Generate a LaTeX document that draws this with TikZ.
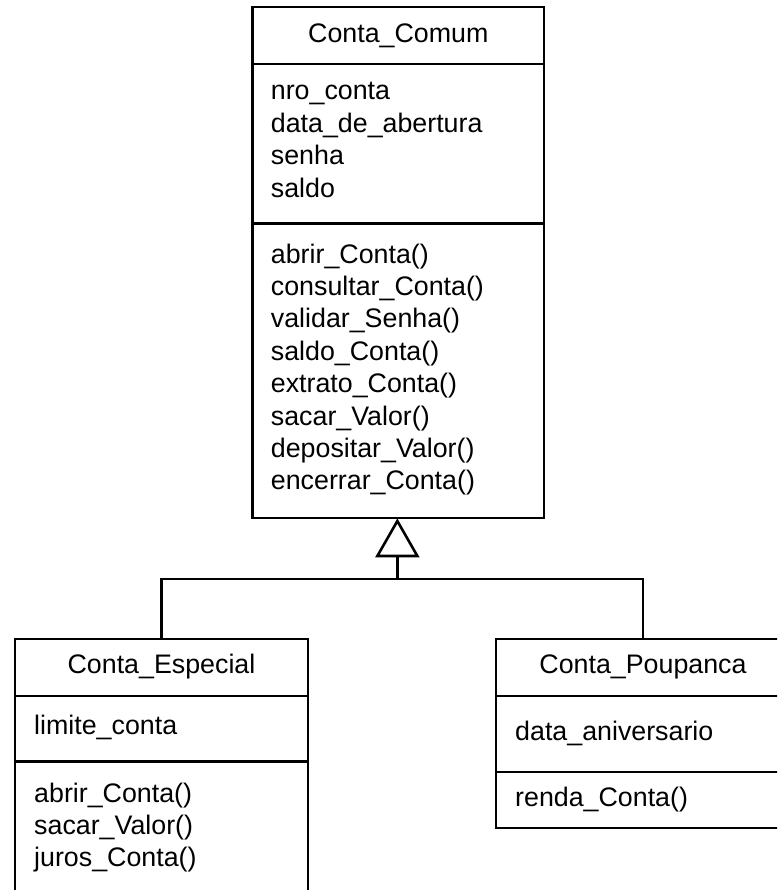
\documentclass[tikz,border=0pt]{standalone}
\usepackage{fontspec}
\setmainfont{Liberation Sans}
\usetikzlibrary{calc}
\begin{document}
\begin{tikzpicture}[x=1pt, y=-1pt,
  classbox/.style={draw, line width=2.6pt, inner sep=0pt, outer sep=0pt, anchor=north west},
  rule/.style={line width=2.6pt},
  link/.style={line width=2.6pt},
  lbl/.style={anchor=base west, inner sep=0pt, font=\fontsize{26.8}{32.4}\selectfont},
  ttl/.style={anchor=base, inner sep=0pt, font=\fontsize{26.8}{32.4}\selectfont}]
\useasboundingbox (0,0) rectangle (777,890);
\clip (0,0) rectangle (777,890);

% class frames
\node[classbox, minimum width=291.3pt, minimum height=511pt] (comum) at (252.7,7) {};
\node[classbox, minimum width=293pt, minimum height=266pt] (esp) at (15,639) {};
\node[classbox, minimum width=294pt, minimum height=189pt] (pou) at (496,639) {};

% compartment dividers
\draw[rule] (comum.west |- 0,64) -- (comum.east |- 0,64);
\draw[rule] (comum.west |- 0,223.5) -- (comum.east |- 0,223.5);
\draw[rule] (esp.west |- 0,696) -- (esp.east |- 0,696);
\draw[rule] (esp.west |- 0,761.5) -- (esp.east |- 0,761.5);
\draw[rule] (pou.west |- 0,696) -- (pou.east |- 0,696);
\draw[rule] (pou.west |- 0,772) -- (pou.east |- 0,772);

% class names
\node[ttl] (comum-t) at (comum.north |- 0,42.7) {Conta\_Comum};
\node[ttl] (esp-t) at (esp.north |- 0,673) {Conta\_Especial};
\node[ttl] (pou-t) at (pou.north |- 0,673) {Conta\_Poupanca};

% Conta_Comum members
\foreach \t [count=\i] in {nro\_conta, data\_de\_abertura, senha, saldo}
  \node[lbl] (comum-a\i) at (270.7,{100+32.4*(\i-1)}) {\t};
\foreach \t [count=\i] in {abrir\_Conta(), consultar\_Conta(), validar\_Senha(),
    saldo\_Conta(), extrato\_Conta(), sacar\_Valor(), depositar\_Valor(), encerrar\_Conta()}
  \node[lbl] (comum-m\i) at (270.7,{263+32.4*(\i-1)}) {\t};

% Conta_Especial members
\node[lbl] (esp-a1) at (34,734) {limite\_conta};
\foreach \t [count=\i] in {abrir\_Conta(), sacar\_Valor(), juros\_Conta()}
  \node[lbl] (esp-m\i) at (34,{802.7+31.8*(\i-1)}) {\t};

% Conta_Poupanca members
\node[lbl] (pou-a1) at (515,740) {data\_aniversario};
\node[lbl] (pou-m1) at (515,806) {renda\_Conta()};

% generalization
\coordinate (tip) at ($(comum.south)+(-1,3)$);
\coordinate (tbase) at ($(tip)+(0,35)$);
\coordinate (fork) at ($(tip)+(0,58)$);
\draw[link, line join=miter] (tip) -- ($(tbase)+(-20,0)$) -- ($(tbase)+(20,0)$) -- cycle;
\draw[link] (tbase) -- (fork);
\draw[link] (esp.north) |- (fork) -| (pou.north);
\end{tikzpicture}
\end{document}
